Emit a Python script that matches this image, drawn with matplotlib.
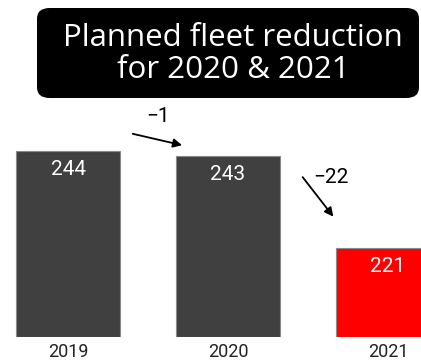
import matplotlib
matplotlib.use("Agg")
import matplotlib.pyplot as plt
from matplotlib.patches import FancyBboxPatch

years = ["2019", "2020", "2021"]
fleet = [244, 243, 221]
bar_colors = ["#404040", "#404040", "#ff0000"]
changes = ["\u22121", "\u221222"]
title = "Planned fleet reduction\nfor 2020 & 2021"

W, H, DPI = 421, 360, 100
fig = plt.figure(figsize=(W / DPI, H / DPI), dpi=DPI)

px_per_unit = 4.22
base = 200
ax = fig.add_axes([0, 23 / H, 1, 337 / H])
x = list(range(len(years)))
bars = ax.bar(x, [v - base for v in fleet], bottom=base, width=0.65,
              color=bar_colors, edgecolor="#8a8a8a", linewidth=0.8)
ax.set_xlim(-68 / 160, (W - 68) / 160)
ax.set_ylim(base, base + 337 / px_per_unit)
for s in ax.spines.values():
    s.set_visible(False)
ax.set_yticks([])
ax.set_xticks(x)
ax.set_xticklabels(years, fontsize=13, color="#222222", family="Roboto")
ax.tick_params(axis="x", length=0, pad=4)

for xi, v in zip(x, fleet):
    ax.text(xi, v - 4.4, str(v), ha="center", va="center", color="white",
            fontsize=15, family="Roboto")

# change arrows between consecutive years
ax.annotate("", xy=(0.73, 245.3), xytext=(0.3875, 248.3),
            arrowprops=dict(arrowstyle="-|>", color="black", lw=1.3,
                            mutation_scale=13), annotation_clip=False)
ax.text(0.56, 252.3, changes[0], ha="center", va="center", fontsize=15,
        family="Roboto", color="black")
ax.annotate("", xy=(1.669, 228.0), xytext=(1.456, 238.4),
            arrowprops=dict(arrowstyle="-|>", color="black", lw=1.3,
                            mutation_scale=13), annotation_clip=False)
ax.text(1.645, 237.8, changes[1], ha="center", va="center", fontsize=15,
        family="Roboto", color="black")

# title banner
box = FancyBboxPatch((37 / W, 1 - 98 / H), (419 - 37) / W, (98 - 8) / H,
                     boxstyle="round,pad=0,rounding_size=0.03",
                     transform=fig.transFigure, facecolor="black",
                     edgecolor="none", zorder=5)
fig.patches.append(box)
fig.text(233 / W, 1 - 54 / H, title, ha="center", va="center", color="white",
         fontsize=22.5, family="Open Sans", linespacing=1.12, zorder=6)

fig.savefig("out.png", dpi=DPI)
